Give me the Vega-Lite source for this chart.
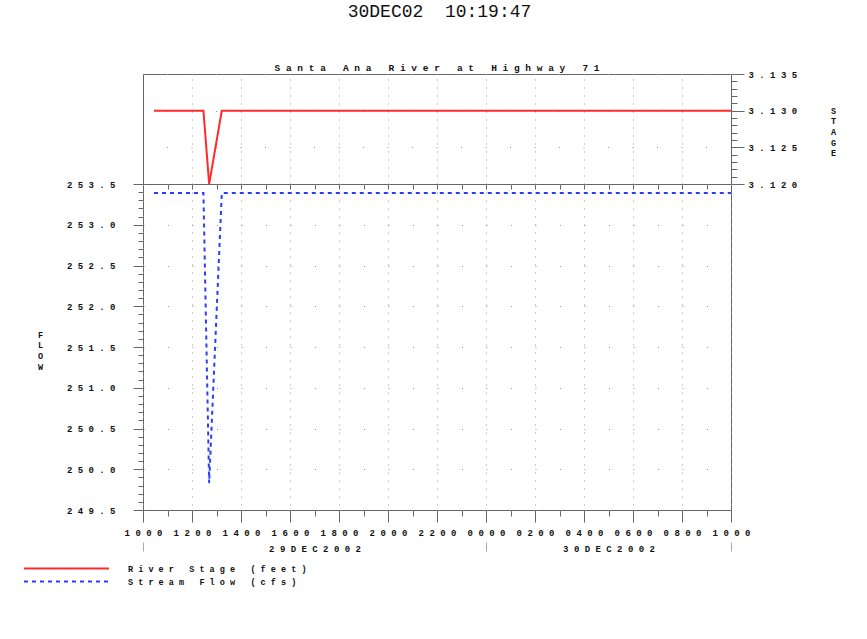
{
  "$schema": "https://vega.github.io/schema/vega-lite/v6.json",
  "padding": {"left": 36, "top": 3, "right": 5, "bottom": 5},
  "config": {
    "view": {"stroke": "#666", "strokeWidth": 1},
    "axis": {
      "labelFont": "Liberation Mono", "labelFontWeight": "bold", "labelFontSize": 9, "labelColor": "#111",
      "domain": false, "tickColor": "#666", "gridColor": "#999", "gridOpacity": 1,
      "titleFont": "Liberation Mono", "titleFontWeight": "bold", "titleFontSize": 8.5, "titleColor": "#111",
      "labelFlush": false, "labelOverlap": false
    },
    "concat": {"spacing": 0}
  },
  "title": {"text": "30DEC02\u00a0 10:19:47", "anchor": "middle", "offset": 41, "dx": 3,
    "font": "Liberation Mono", "fontSize": 18, "fontWeight": "normal", "color": "#111"},
  "datasets": {
    "stage": [
      {"time": "2002-12-29T10:27", "stage": 3.130},
      {"time": "2002-12-29T11:00", "stage": 3.130},
      {"time": "2002-12-29T12:00", "stage": 3.130},
      {"time": "2002-12-29T12:28", "stage": 3.130},
      {"time": "2002-12-29T12:42", "stage": 3.120},
      {"time": "2002-12-29T13:13", "stage": 3.130},
      {"time": "2002-12-29T14:00", "stage": 3.130},
      {"time": "2002-12-29T15:00", "stage": 3.130},
      {"time": "2002-12-29T16:00", "stage": 3.130},
      {"time": "2002-12-29T17:00", "stage": 3.130},
      {"time": "2002-12-29T18:00", "stage": 3.130},
      {"time": "2002-12-29T19:00", "stage": 3.130},
      {"time": "2002-12-29T20:00", "stage": 3.130},
      {"time": "2002-12-29T21:00", "stage": 3.130},
      {"time": "2002-12-29T22:00", "stage": 3.130},
      {"time": "2002-12-29T23:00", "stage": 3.130},
      {"time": "2002-12-30T00:00", "stage": 3.130},
      {"time": "2002-12-30T01:00", "stage": 3.130},
      {"time": "2002-12-30T02:00", "stage": 3.130},
      {"time": "2002-12-30T03:00", "stage": 3.130},
      {"time": "2002-12-30T04:00", "stage": 3.130},
      {"time": "2002-12-30T05:00", "stage": 3.130},
      {"time": "2002-12-30T06:00", "stage": 3.130},
      {"time": "2002-12-30T07:00", "stage": 3.130},
      {"time": "2002-12-30T08:00", "stage": 3.130},
      {"time": "2002-12-30T09:00", "stage": 3.130},
      {"time": "2002-12-30T10:00", "stage": 3.130}
    ],
    "flow": [
      {"time": "2002-12-29T10:27", "flow": 253.39},
      {"time": "2002-12-29T11:00", "flow": 253.39},
      {"time": "2002-12-29T12:00", "flow": 253.39},
      {"time": "2002-12-29T12:28", "flow": 253.39},
      {"time": "2002-12-29T12:42", "flow": 249.83},
      {"time": "2002-12-29T13:13", "flow": 253.39},
      {"time": "2002-12-29T14:00", "flow": 253.39},
      {"time": "2002-12-29T15:00", "flow": 253.39},
      {"time": "2002-12-29T16:00", "flow": 253.39},
      {"time": "2002-12-29T17:00", "flow": 253.39},
      {"time": "2002-12-29T18:00", "flow": 253.39},
      {"time": "2002-12-29T19:00", "flow": 253.39},
      {"time": "2002-12-29T20:00", "flow": 253.39},
      {"time": "2002-12-29T21:00", "flow": 253.39},
      {"time": "2002-12-29T22:00", "flow": 253.39},
      {"time": "2002-12-29T23:00", "flow": 253.39},
      {"time": "2002-12-30T00:00", "flow": 253.39},
      {"time": "2002-12-30T01:00", "flow": 253.39},
      {"time": "2002-12-30T02:00", "flow": 253.39},
      {"time": "2002-12-30T03:00", "flow": 253.39},
      {"time": "2002-12-30T04:00", "flow": 253.39},
      {"time": "2002-12-30T05:00", "flow": 253.39},
      {"time": "2002-12-30T06:00", "flow": 253.39},
      {"time": "2002-12-30T07:00", "flow": 253.39},
      {"time": "2002-12-30T08:00", "flow": 253.39},
      {"time": "2002-12-30T09:00", "flow": 253.39},
      {"time": "2002-12-30T10:00", "flow": 253.39}
    ]
  },
  "bounds": "flush",
  "spacing": 0,
  "vconcat": [
    {
      "width": 588, "height": 110,
      "title": {"text": "S\u00a0a\u00a0n\u00a0t\u00a0a\u00a0\u00a0\u00a0A\u00a0n\u00a0a\u00a0\u00a0\u00a0R\u00a0i\u00a0v\u00a0e\u00a0r\u00a0\u00a0\u00a0a\u00a0t\u00a0\u00a0\u00a0H\u00a0i\u00a0g\u00a0h\u00a0w\u00a0a\u00a0y\u00a0\u00a0\u00a07\u00a01", "anchor": "middle", "offset": -2,
        "font": "Liberation Mono", "fontSize": 9.5, "fontWeight": "bold", "color": "#111"},
      "layer": [
        {
          "data": {"name": "stage"},
          "mark": {"type": "line", "strokeWidth": 2},
          "encoding": {
            "x": {"field": "time", "type": "temporal",
              "scale": {"domain": [{"year": 2002, "month": 12, "date": 29, "hours": 10}, {"year": 2002, "month": 12, "date": 30, "hours": 10}]},
              "axis": {"orient": "top", "ticks": false, "labels": false, "grid": true, "gridDash": [1, 7], "title": null,
                "values": [
                  {"year": 2002, "month": 12, "date": 29, "hours": 12}, {"year": 2002, "month": 12, "date": 29, "hours": 14},
                  {"year": 2002, "month": 12, "date": 29, "hours": 16}, {"year": 2002, "month": 12, "date": 29, "hours": 18},
                  {"year": 2002, "month": 12, "date": 29, "hours": 20}, {"year": 2002, "month": 12, "date": 29, "hours": 22},
                  {"year": 2002, "month": 12, "date": 30, "hours": 0}, {"year": 2002, "month": 12, "date": 30, "hours": 2},
                  {"year": 2002, "month": 12, "date": 30, "hours": 4}, {"year": 2002, "month": 12, "date": 30, "hours": 6},
                  {"year": 2002, "month": 12, "date": 30, "hours": 8}]}},
            "y": {"field": "stage", "type": "quantitative",
              "scale": {"domain": [3.12, 3.135], "nice": false, "zero": false},
              "axis": {"orient": "right", "values": [3.12, 3.125, 3.13, 3.135], "format": ".3f",
                "labelExpr": "join(split(datum.label,''),'\u00a0')", "tickSize": 13, "labelPadding": 4,
                "grid": true, "gridDash": [1, 23.5],
                "title": ["S", "T", "A", "G", "E"], "titleAngle": 0, "titleX": 102, "titleY": 32, "titleAlign": "center", "titleBaseline": "top", "titleLineHeight": 10.7}},
            "color": {"datum": "River Stage (feet)", "type": "nominal",
              "scale": {"domain": ["River Stage (feet)", "Stream Flow (cfs)"], "range": ["#ff2a2a", "#2a3cff"]},
              "legend": {"title": null, "orient": "none", "legendX": -82, "legendY": 489, "symbolType": "M-10,0H10", "symbolSize": 72.25,
                "symbolStrokeWidth": 2, "rowPadding": 3, "labelFont": "Liberation Mono", "labelFontWeight": "bold", "labelFontSize": 8.5, "labelColor": "#111",
                "labelLimit": 400, "labelExpr": "join(split(datum.label,''),'\u00a0')", "labelOffset": 56}},
            "strokeDash": {"datum": "River Stage (feet)", "type": "nominal",
              "scale": {"domain": ["River Stage (feet)", "Stream Flow (cfs)"], "range": [[1, 0], [4, 4]]}}
          }
        },
        {
          "data": {"name": "stage"},
          "mark": {"type": "point", "opacity": 0},
          "encoding": {
            "x": {"field": "time", "type": "temporal"},
            "y": {"field": "stage", "type": "quantitative",
              "scale": {"domain": [3.12, 3.135], "nice": false, "zero": false},
              "axis": {"orient": "right", "labels": false, "grid": false, "tickSize": 6, "title": null,
                "values": [3.12,3.121,3.122,3.123,3.124,3.125,3.126,3.127,3.128,3.129,3.13,3.131,3.132,3.133,3.134,3.135]}}
          }
        }
      ],
      "resolve": {"scale": {"y": "independent"}}
    },
    {
      "width": 588, "height": 326,
      "layer": [
        {
          "data": {"name": "flow"},
          "mark": {"type": "line", "strokeWidth": 2},
          "encoding": {
            "x": {"field": "time", "type": "temporal",
              "scale": {"domain": [{"year": 2002, "month": 12, "date": 29, "hours": 10}, {"year": 2002, "month": 12, "date": 30, "hours": 10}]},
              "axis": {"orient": "bottom", "format": "%H%M", "labelExpr": "join(split(datum.label,''),'\u00a0')",
                "tickSize": 12, "labelPadding": 6, "grid": true, "gridDash": [1, 7], "title": null,
                "values": [
                  {"year": 2002, "month": 12, "date": 29, "hours": 10},
                  {"year": 2002, "month": 12, "date": 29, "hours": 12}, {"year": 2002, "month": 12, "date": 29, "hours": 14},
                  {"year": 2002, "month": 12, "date": 29, "hours": 16}, {"year": 2002, "month": 12, "date": 29, "hours": 18},
                  {"year": 2002, "month": 12, "date": 29, "hours": 20}, {"year": 2002, "month": 12, "date": 29, "hours": 22},
                  {"year": 2002, "month": 12, "date": 30, "hours": 0}, {"year": 2002, "month": 12, "date": 30, "hours": 2},
                  {"year": 2002, "month": 12, "date": 30, "hours": 4}, {"year": 2002, "month": 12, "date": 30, "hours": 6},
                  {"year": 2002, "month": 12, "date": 30, "hours": 8}, {"year": 2002, "month": 12, "date": 30, "hours": 10}]}},
            "y": {"field": "flow", "type": "quantitative",
              "scale": {"domain": [249.5, 253.5], "nice": false, "zero": false},
              "axis": {"orient": "left", "values": [249.5, 250, 250.5, 251, 251.5, 252, 252.5, 253, 253.5],
                "format": ".1f", "labelExpr": "join(split(datum.label,''),'\u00a0')", "tickSize": 10, "labelPadding": 18, "grid": true, "gridDash": [1, 23.5],
                "title": ["F", "L", "O", "W"], "titleAngle": 0, "titleX": -103, "titleY": 146, "titleAlign": "center", "titleBaseline": "top", "titleLineHeight": 10.7}},
            "color": {"datum": "Stream Flow (cfs)", "type": "nominal"},
            "strokeDash": {"datum": "Stream Flow (cfs)", "type": "nominal"}
          }
        },
        {
          "data": {"name": "flow"},
          "mark": {"type": "point", "opacity": 0},
          "encoding": {
            "x": {"field": "time", "type": "temporal",
              "scale": {"domain": [{"year": 2002, "month": 12, "date": 29, "hours": 10}, {"year": 2002, "month": 12, "date": 30, "hours": 10}]},
              "axis": {"orient": "bottom", "labels": false, "grid": false, "tickSize": 6, "title": null,
                "values": [
                  {"year": 2002, "month": 12, "date": 29, "hours": 11}, {"year": 2002, "month": 12, "date": 29, "hours": 13},
                  {"year": 2002, "month": 12, "date": 29, "hours": 15}, {"year": 2002, "month": 12, "date": 29, "hours": 17},
                  {"year": 2002, "month": 12, "date": 29, "hours": 19}, {"year": 2002, "month": 12, "date": 29, "hours": 21},
                  {"year": 2002, "month": 12, "date": 29, "hours": 23}, {"year": 2002, "month": 12, "date": 30, "hours": 1},
                  {"year": 2002, "month": 12, "date": 30, "hours": 3}, {"year": 2002, "month": 12, "date": 30, "hours": 5},
                  {"year": 2002, "month": 12, "date": 30, "hours": 7}, {"year": 2002, "month": 12, "date": 30, "hours": 9}]}},
            "y": {"field": "flow", "type": "quantitative",
              "scale": {"domain": [249.5, 253.5], "nice": false, "zero": false},
              "axis": {"orient": "left", "labels": false, "grid": false, "tickSize": 5, "title": null,
                "values": [249.5,249.6,249.7,249.8,249.9,250,250.1,250.2,250.3,250.4,250.5,250.6,250.7,250.8,250.9,251,251.1,251.2,251.3,251.4,251.5,251.6,251.7,251.8,251.9,252,252.1,252.2,252.3,252.4,252.5,252.6,252.7,252.8,252.9,253,253.1,253.2,253.3,253.4,253.5]}}
          }
        },
        {
          "data": {"name": "flow"},
          "mark": {"type": "point", "opacity": 0},
          "encoding": {
            "x": {"field": "time", "type": "temporal",
              "scale": {"domain": [{"year": 2002, "month": 12, "date": 29, "hours": 10}, {"year": 2002, "month": 12, "date": 30, "hours": 10}]},
              "axis": {"orient": "top", "labels": false, "grid": false, "tickSize": -5, "title": null,
                "values": [
                  {"year": 2002, "month": 12, "date": 29, "hours": 11}, {"year": 2002, "month": 12, "date": 29, "hours": 12},
                  {"year": 2002, "month": 12, "date": 29, "hours": 13}, {"year": 2002, "month": 12, "date": 29, "hours": 14},
                  {"year": 2002, "month": 12, "date": 29, "hours": 15}, {"year": 2002, "month": 12, "date": 29, "hours": 16},
                  {"year": 2002, "month": 12, "date": 29, "hours": 17}, {"year": 2002, "month": 12, "date": 29, "hours": 18},
                  {"year": 2002, "month": 12, "date": 29, "hours": 19}, {"year": 2002, "month": 12, "date": 29, "hours": 20},
                  {"year": 2002, "month": 12, "date": 29, "hours": 21}, {"year": 2002, "month": 12, "date": 29, "hours": 22},
                  {"year": 2002, "month": 12, "date": 29, "hours": 23}, {"year": 2002, "month": 12, "date": 30, "hours": 0},
                  {"year": 2002, "month": 12, "date": 30, "hours": 1}, {"year": 2002, "month": 12, "date": 30, "hours": 2},
                  {"year": 2002, "month": 12, "date": 30, "hours": 3}, {"year": 2002, "month": 12, "date": 30, "hours": 4},
                  {"year": 2002, "month": 12, "date": 30, "hours": 5}, {"year": 2002, "month": 12, "date": 30, "hours": 6},
                  {"year": 2002, "month": 12, "date": 30, "hours": 7}, {"year": 2002, "month": 12, "date": 30, "hours": 8},
                  {"year": 2002, "month": 12, "date": 30, "hours": 9}]}},
            "y": {"field": "flow", "type": "quantitative", "scale": {"domain": [249.5, 253.5], "nice": false, "zero": false}, "axis": null}
          }
        },
        {
          "data": {"name": "flow"},
          "mark": {"type": "point", "opacity": 0},
          "encoding": {
            "x": {"field": "time", "type": "temporal",
              "scale": {"domain": [{"year": 2002, "month": 12, "date": 29, "hours": 10}, {"year": 2002, "month": 12, "date": 30, "hours": 10}]},
              "axis": {"orient": "bottom", "offset": 32, "labels": false, "grid": false, "tickSize": 9, "tickColor": "#aaa", "title": null,
                "values": [{"year": 2002, "month": 12, "date": 29, "hours": 10}, {"year": 2002, "month": 12, "date": 30, "hours": 0}, {"year": 2002, "month": 12, "date": 30, "hours": 10}]}},
            "y": {"field": "flow", "type": "quantitative", "scale": {"domain": [249.5, 253.5], "nice": false, "zero": false}, "axis": null}
          }
        },
        {
          "data": {"name": "flow"},
          "mark": {"type": "point", "opacity": 0},
          "encoding": {
            "x": {"field": "time", "type": "temporal",
              "scale": {"domain": [{"year": 2002, "month": 12, "date": 29, "hours": 10}, {"year": 2002, "month": 12, "date": 30, "hours": 10}]},
              "axis": {"orient": "bottom", "offset": 32, "ticks": false, "grid": false, "labelPadding": 2, "format": "%d%b%Y",
                "labelExpr": "join(split(upper(datum.label),''),'\u00a0')", "title": null,
                "values": [{"year": 2002, "month": 12, "date": 29, "hours": 17}, {"year": 2002, "month": 12, "date": 30, "hours": 5}]}},
            "y": {"field": "flow", "type": "quantitative", "scale": {"domain": [249.5, 253.5], "nice": false, "zero": false}, "axis": null}
          }
        }
      ],
      "resolve": {"scale": {"x": "independent", "y": "independent"}}
    }
  ]
}
